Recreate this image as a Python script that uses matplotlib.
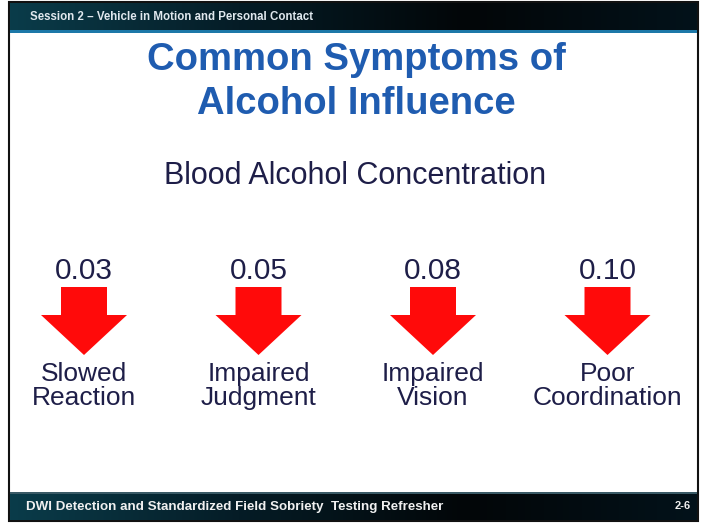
import numpy as np
import matplotlib.pyplot as plt
import matplotlib.patches as mpatches
from matplotlib.colors import LinearSegmentedColormap

plt.rcParams['font.family'] = ['Liberation Sans', 'DejaVu Sans']

W, H = 701, 523

header_text = "Session 2 \u2013 Vehicle in Motion and Personal Contact"
footer_text = "DWI Detection and Standardized Field Sobriety  Testing Refresher"
page_no = "2-6"
title_lines = ["Common Symptoms of", "Alcohol Influence"]
subtitle = "Blood Alcohol Concentration"
bac_levels = ["0.03", "0.05", "0.08", "0.10"]
symptoms = ["Slowed\nReaction", "Impaired\nJudgment", "Impaired\nVision", "Poor\nCoordination"]

TITLE_BLUE = '#1f5cb0'
TEXT_NAVY = '#1e1e48'
ARROW_RED = '#ff0a0a'

fig = plt.figure(figsize=(W / 100, H / 100), dpi=100)
ax = fig.add_axes([0, 0, 1, 1])
ax.set_xlim(0, W)
ax.set_ylim(H, 0)
ax.axis('off')

# slide frame
ax.add_patch(mpatches.Rectangle((9, 2), 689, 519, facecolor='white', edgecolor='#111111', lw=1.5))

# header / footer bars with dark teal gradient
grad = np.linspace(0, 1, 256).reshape(1, -1)
bar_cmap = LinearSegmentedColormap.from_list('bar', ['#0a3c4a', '#051c26', '#020608', '#03121a'])
ax.imshow(grad, cmap=bar_cmap, extent=(10, 697, 31, 3), aspect='auto', zorder=2)
ax.add_patch(mpatches.Rectangle((10, 30), 687, 3, facecolor='#1c78a8', edgecolor='none', zorder=3))
ax.imshow(grad, cmap=bar_cmap, extent=(10, 697, 520, 493), aspect='auto', zorder=2)
ax.add_patch(mpatches.Rectangle((10, 492), 687, 1.5, facecolor='#3a5a66', edgecolor='none', zorder=3))

ax.text(30, 17, header_text, color='#e0e8ee', fontsize=8.3, fontweight='bold', va='center', ha='left', zorder=4)
ax.text(26, 507, footer_text, color='#f0f0f0', fontsize=9.6, fontweight='bold', va='center', ha='left', zorder=4)
ax.text(683, 506, page_no, color='#f0f0f0', fontsize=8, fontweight='bold', va='center', ha='center', zorder=4)

# title
for i, line in enumerate(title_lines):
    ax.text(356, 60 + i * 44, line, color=TITLE_BLUE, fontsize=27.5, fontweight='bold', ha='center', va='center')
ax.text(355, 176, subtitle, color=TEXT_NAVY, fontsize=22, ha='center', va='center')

# arrows with BAC levels and symptoms
x0, step = 84, 174.5
for i, (lvl, sym) in enumerate(zip(bac_levels, symptoms)):
    cx = x0 + i * step
    ax.text(cx, 271, lvl, color=TEXT_NAVY, fontsize=21.5, ha='center', va='center')
    arrow = mpatches.Polygon([(cx - 23, 287), (cx + 23, 287), (cx + 23, 315), (cx + 43, 315),
                              (cx, 355), (cx - 43, 315), (cx - 23, 315)],
                             closed=True, facecolor=ARROW_RED, edgecolor='none')
    ax.add_patch(arrow)
    ax.text(cx, 386, sym, color=TEXT_NAVY, fontsize=19, ha='center', va='center', linespacing=1.02)

fig.savefig('out.png', dpi=100)
